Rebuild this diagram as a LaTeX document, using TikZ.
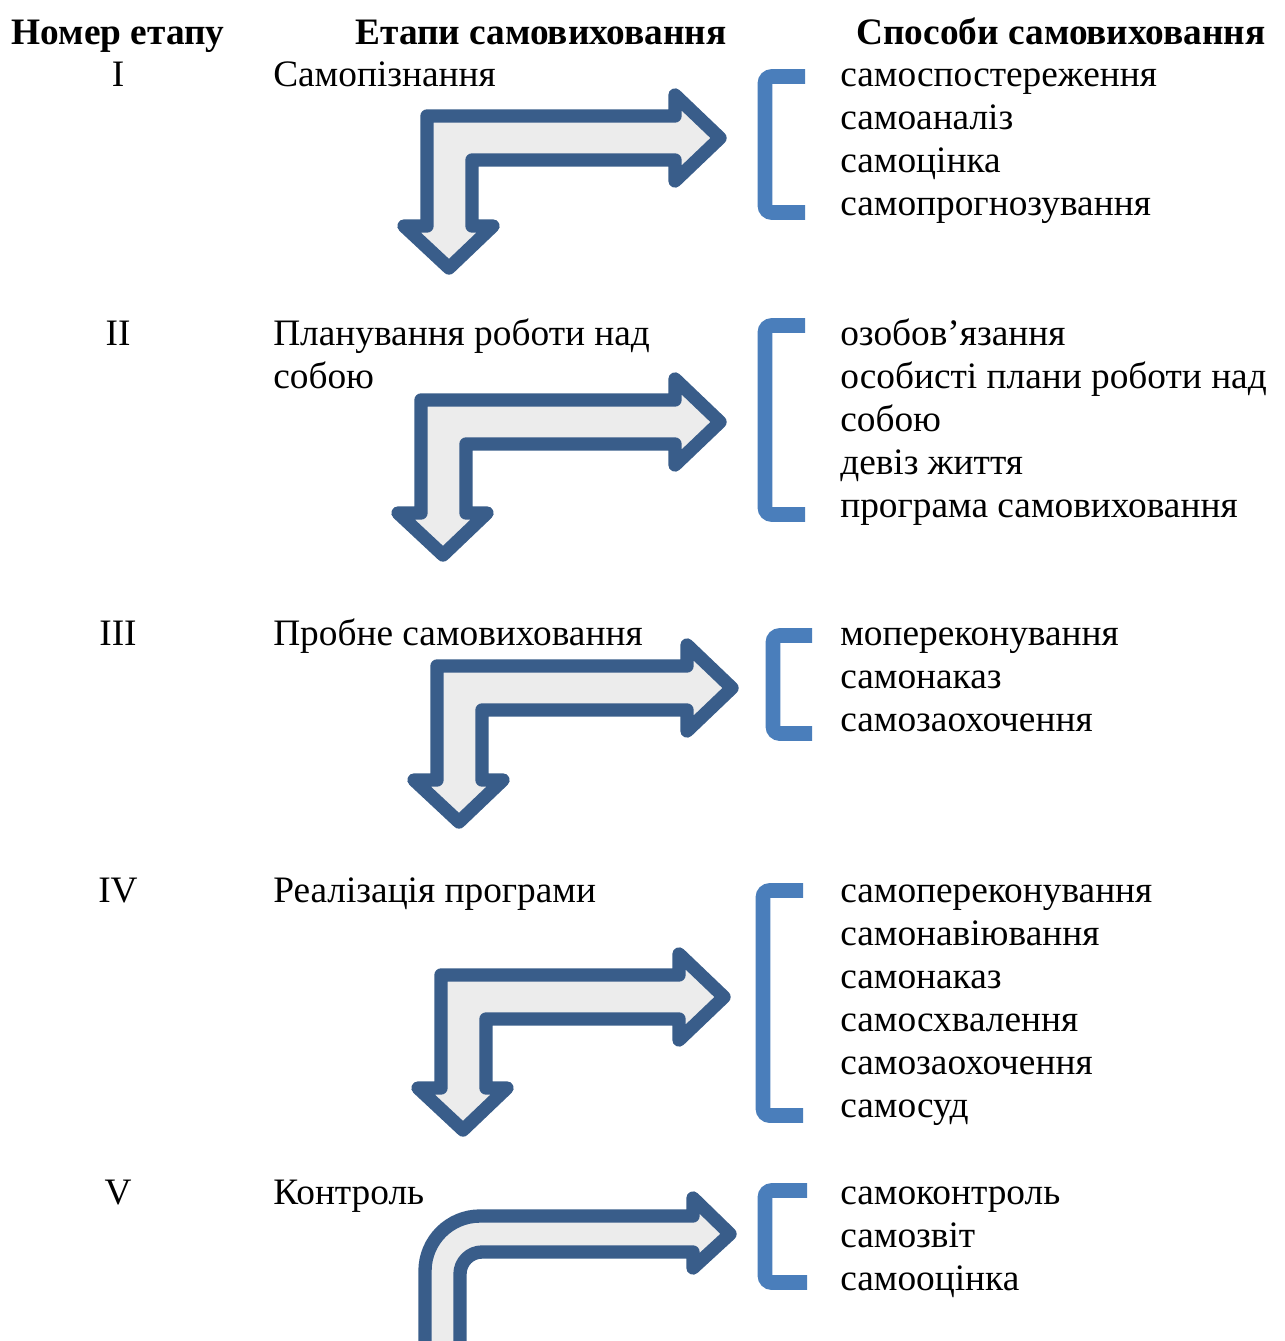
\documentclass[tikz,border=0pt]{standalone}
\usepackage{fontspec}
\setmainfont{Liberation Serif}
\definecolor{arrowblue}{HTML}{395D8A}
\definecolor{brblue}{HTML}{4A7EBB}
\definecolor{arrowfill}{HTML}{ECECEC}
\tikzset{
  bentarrow/.style={draw=arrowblue, fill=arrowfill, line width=10pt, line join=round},
  bracketline/.style={draw=brblue, line width=11pt, rounded corners=5pt},
  txt/.style={anchor=base west, inner sep=0pt, font=\fontsize{28}{32}\selectfont},
  num/.style={anchor=base, inner sep=0pt, font=\fontsize{28}{32}\selectfont},
  head/.style={anchor=base, inner sep=0pt, font=\fontsize{28}{32}\selectfont\bfseries}
}
% x0,y0 outer corner; xr right tip x; yd down tip y
\newcommand{\bentarr}[4]{%
  \draw[bentarrow] (#1,#2) -- ({#3-45},#2) -- ({#3-45},{#2-21}) -- (#3,{#2+22})
    -- ({#3-45},{#2+65}) -- ({#3-45},{#2+44}) -- ({#1+45},{#2+44})
    -- ({#1+45},{#4-42}) -- ({#1+66},{#4-42}) -- ({#1+22},#4)
    -- ({#1-23},{#4-42}) -- (#1,{#4-42}) -- cycle;}
% xl, xr, yt, yb (outer edges)
\newcommand{\brk}[4]{%
  \draw[bracketline] (#2,{#3+7.5}) -- ({#1+8},{#3+7.5}) -- ({#1+8},{#4-7.5}) -- (#2,{#4-7.5});}
\begin{document}
\begin{tikzpicture}[x=0.75pt,y=-0.75pt]
\useasboundingbox (0,0) rectangle (1284,1341);
\clip (0,0) rectangle (1284,1341);

% headers
\node[head] (h1) at (118,45) {Номер етапу};
\node[head] (h2) at (541,45) {Етапи самовиховання};
\node[head] (h3) at (1061,45) {Способи самовиховання};

% stage numbers
\node[num] (n1) at (118,87) {I};
\node[num] (n2) at (118,345) {II};
\node[num] (n3) at (118,645) {III};
\node[num] (n4) at (118,902) {IV};
\node[num] (n5) at (118,1204) {V};

% stage names
\node[txt] (s1) at (273,87) {Самопізнання};
\node[txt] (s2a) at (273,345) {Планування роботи над};
\node[txt] (s2b) at (273,388) {собою};
\node[txt] (s3) at (273,645) {Пробне самовиховання};
\node[txt] (s4) at (273,902) {Реалізація програми};
\node[txt] (s5) at (273,1204) {Контроль};

% methods
\foreach \t [count=\i] in {самоспостереження, самоаналіз, самоцінка, самопрогнозування}
  \node[txt] (ma-\i) at (840,{87+43*(\i-1)}) {\t};
\foreach \t [count=\i] in {озобов’язання, особисті плани роботи над, собою, девіз життя, програма самовиховання}
  \node[txt] (mb-\i) at (840,{345+43*(\i-1)}) {\t};
\foreach \t [count=\i] in {мопереконування, самонаказ, самозаохочення}
  \node[txt] (mc-\i) at (840,{645+43*(\i-1)}) {\t};
\foreach \t [count=\i] in {самопереконування, самонавіювання, самонаказ, самосхвалення, самозаохочення, самосуд}
  \node[txt] (md-\i) at (840,{902+43*(\i-1)}) {\t};
\foreach \t [count=\i] in {самоконтроль, самозвіт, самооцінка}
  \node[txt] (me-\i) at (840,{1204+43*(\i-1)}) {\t};

% brackets
\brk{757}{805}{69}{220}
\brk{757}{805}{318}{522}
\brk{765}{812}{628}{741}
\brk{755}{803}{883}{1123}
\brk{757}{807}{1183}{1290}

% bent arrows
\bentarr{427}{116}{720}{268}
\bentarr{421}{400}{720}{555}
\bentarr{437}{666}{732}{822}
\bentarr{441}{975}{724}{1130}

% rounded bent arrow (V)
\draw[bentarrow] (425,1400) -- (425,1271) .. controls (425,1240.6) and (449.6,1216) .. (480,1216)
  -- (693,1216) -- (693,1198) -- (730,1234) -- (693,1268) -- (693,1252) -- (482,1252)
  .. controls (469.9,1252) and (460,1261.9) .. (460,1274) -- (460,1400) -- cycle;
\end{tikzpicture}
\end{document}
